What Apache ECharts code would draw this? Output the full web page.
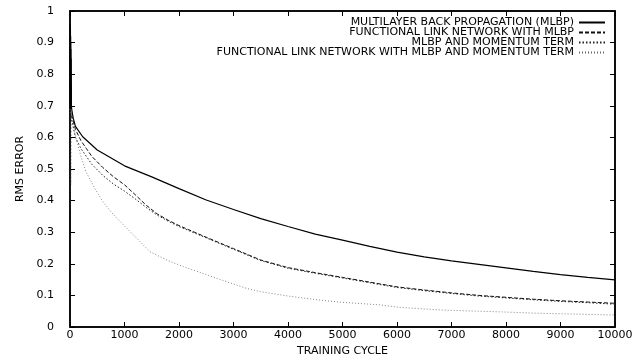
<!DOCTYPE html>
<html>
<head>
<meta charset="utf-8">
<script src="https://cdn.jsdelivr.net/npm/echarts@6/dist/echarts.min.js"></script>
<style>html,body{margin:0;padding:0;background:#fff}#c{width:640px;height:354px}</style>
</head>
<body>
<div id="c"></div>
<script>
var seriesNames = [
  'MULTILAYER BACK PROPAGATION (MLBP)',
  'FUNCTIONAL LINK NETWORK WITH MLBP',
  'MLBP AND MOMENTUM TERM',
  'FUNCTIONAL LINK NETWORK WITH MLBP AND MOMENTUM TERM'
];
var xTickLabels = ['0','1000','2000','3000','4000','5000','6000','7000','8000','9000','10000'];
var yTickLabels = ['0','0.1','0.2','0.3','0.4','0.5','0.6','0.7','0.8','0.9','1'];

var mlbpCycles = [0,2,4,6,8,10,12,14,16,18,20,22,24,26,30,60,100,233,500,1000,1500,2000,2500,3000,3500,4000,4500,5000,5500,6000,6500,7000,7500,8000,8500,9000,9500,10000];
var mlbpValues = [0.96,0.70,0.95,0.69,0.94,0.70,0.92,0.69,0.90,0.70,0.88,0.69,0.85,0.70,0.69,0.66,0.635,0.602,0.56,0.51,0.475,0.438,0.402,0.372,0.343,0.318,0.294,0.275,0.255,0.237,0.222,0.209,0.198,0.187,0.176,0.166,0.157,0.149];

var flnCycles = [0,30,100,200,300,400,600,800,1000,1200,1400,1600,1800,2000,2500,3000,3500,4000,4500,5000,5500,6000,6500,7000,7500,8000,8500,9000,9500,10000];
var flnValues = [0.69,0.67,0.625,0.59,0.565,0.54,0.505,0.475,0.45,0.418,0.385,0.358,0.338,0.321,0.284,0.248,0.212,0.188,0.172,0.157,0.142,0.127,0.117,0.108,0.100,0.094,0.088,0.083,0.079,0.075];

var momCycles = [0,4,8,12,16,25,100,200,300,400,600,800,1000,1200,1400,1600,1800,2000,2500,3000,3500,4000,4500,5000,5500,6000,6500,7000,7500,8000,8500,9000,9500,10000];
var momValues = [0.69,0.37,0.66,0.45,0.68,0.66,0.60,0.565,0.54,0.515,0.48,0.452,0.43,0.405,0.378,0.354,0.335,0.318,0.282,0.246,0.210,0.186,0.170,0.155,0.140,0.125,0.115,0.106,0.098,0.092,0.086,0.081,0.077,0.072];

var flnMomCycles = [0,30,110,200,294,450,600,800,1000,1200,1468,1800,2079,2400,2691,3000,3242,3486,4000,4587,5000,5688,6055,6789,7300,7890,8500,9200,10000];
var flnMomValues = [0.69,0.66,0.597,0.54,0.491,0.44,0.397,0.355,0.32,0.285,0.238,0.21,0.191,0.172,0.154,0.136,0.122,0.112,0.098,0.085,0.078,0.070,0.062,0.054,0.051,0.048,0.044,0.041,0.038];

function pairs(xs, ys){ return xs.map(function(x,i){ return [x, ys[i]]; }); }

var font = '"DejaVu Sans", Verdana, sans-serif';
var chart = echarts.init(document.getElementById('c'), null, {renderer:'canvas'});

function lineSeries(name, data, color, width, type){
  return {
    name: name, type: 'line', data: data, showSymbol: false, symbol: 'none',
    smooth: false, animation: false, xAxisIndex: 0, yAxisIndex: 0,
    lineStyle: {color: color, width: width, type: type},
    itemStyle: {color: color}
  };
}

var tick = {show: true, inside: true, length: 5, lineStyle: {color: '#000', width: 1}};
var aline = {show: true, onZero: false, lineStyle: {color: '#000', width: 1.5}};

chart.setOption({
  backgroundColor: '#ffffff',
  animation: false,
  grid: {left: 70, right: 25, top: 11, bottom: 27, containLabel: false, outerBoundsMode: 'none',
    show: true, borderColor: '#000', borderWidth: 1.5, backgroundColor: 'transparent'},
  legend: {
    orient: 'vertical', right: 34, top: 17, align: 'right',
    itemWidth: 26, itemHeight: 9, itemGap: -1, padding: 0,
    itemStyle: {color: 'rgba(0,0,0,0)', borderColor: 'rgba(0,0,0,0)', borderWidth: 0},
    textStyle: {fontFamily: font, fontSize: 11, color: '#000'},
    data: seriesNames
  },
  xAxis: [{
    type: 'value', min: 0, max: 10000, interval: 1000, position: 'bottom',
    name: 'TRAINING CYCLE', nameLocation: 'middle', nameGap: 14,
    nameTextStyle: {fontFamily: font, fontSize: 11, color: '#000'},
    axisLine: aline, axisTick: tick,
    axisLabel: {fontFamily: font, fontSize: 11, color: '#000', margin: 3,
      formatter: function(v){ return xTickLabels[Math.round(v/1000)]; }},
    splitLine: {show: false}
  },{
    type: 'value', min: 0, max: 10000, interval: 1000, position: 'top',
    axisLine: aline, axisTick: tick,
    axisLabel: {show: false}, splitLine: {show: false}
  }],
  yAxis: [{
    type: 'value', min: 0, max: 1, interval: 0.1, position: 'left',
    name: 'RMS ERROR', nameLocation: 'middle', nameGap: 36, nameRotate: 90,
    nameTextStyle: {fontFamily: font, fontSize: 11, color: '#000'},
    axisLine: aline, axisTick: tick,
    axisLabel: {fontFamily: font, fontSize: 11, color: '#000', margin: 16,
      formatter: function(v){ return yTickLabels[Math.round(v*10)]; }},
    splitLine: {show: false}
  },{
    type: 'value', min: 0, max: 1, interval: 0.1, position: 'right',
    axisLine: aline, axisTick: tick,
    axisLabel: {show: false}, splitLine: {show: false}
  }],
  series: [
    lineSeries(seriesNames[0], pairs(mlbpCycles, mlbpValues), '#000', 1.2, 'solid'),
    lineSeries(seriesNames[1], pairs(flnCycles, flnValues), '#111', 1, [4,2]),
    lineSeries(seriesNames[2], pairs(momCycles, momValues), '#222', 1, [1.5,2]),
    lineSeries(seriesNames[3], pairs(flnMomCycles, flnMomValues), '#666', 0.8, [1,2])
  ]
});
</script>
</body>
</html>
